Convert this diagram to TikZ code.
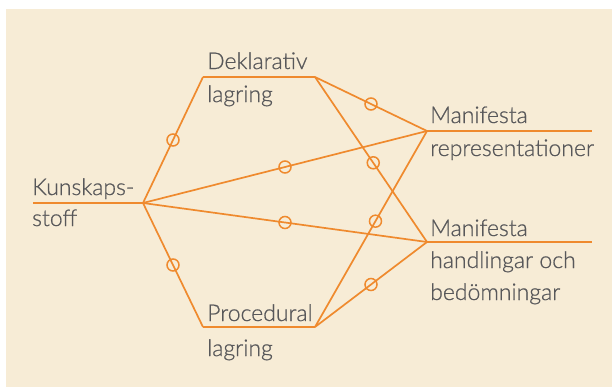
\documentclass[tikz,border=0pt]{standalone}
\usepackage{fontspec}
\setmainfont{Lato}[UprightFont=* Light,FakeBold=0.7,UprightFeatures={FakeBold=0.7}]
\definecolor{paper}{HTML}{F7ECD6}
\definecolor{wire}{HTML}{EF8A2E}
\definecolor{ink}{HTML}{58585A}
\begin{document}
\begin{tikzpicture}[x=1pt,y=-1pt,
  wirepath/.style={draw=wire,line width=1.7pt,line join=miter},
  ring/.style={circle,draw=wire,line width=1.5pt,minimum size=12pt,inner sep=0pt},
  lbl/.style={anchor=base west,inner sep=0pt,text=ink,font=\fontsize{23}{30}\selectfont}]
  % canvas and panel
  \useasboundingbox (0,0) rectangle (612,388);
  \fill[white] (0,0) rectangle (612,388);
  \fill[paper] (6,9) rectangle (612,387);

  % hubs
  \coordinate (Kin) at (33,203);
  \coordinate (K) at (143,203);
  \coordinate (D1) at (203,77);
  \coordinate (D2) at (315,77);
  \coordinate (P1) at (203,327);
  \coordinate (P2) at (315,327);
  \coordinate (R) at (427,131);
  \coordinate (Rout) at (592,131);
  \coordinate (H) at (427,242);
  \coordinate (Hout) at (592,242);

  % connectors
  \path[wirepath] (Kin) -- (K);
  \path[wirepath] (D1) -- (D2);
  \path[wirepath] (P1) -- (P2);
  \path[wirepath] (R) -- (Rout);
  \path[wirepath] (H) -- (Hout);
  \path[wirepath] (K) -- node[ring,pos=0.5] (c1) {} (D1);
  \path[wirepath] (K) -- node[ring,pos=0.5] (c2) {} (P1);
  \path[wirepath] (K) -- node[ring,pos=0.5] (c3) {} (R);
  \path[wirepath] (K) -- node[ring,pos=0.5] (c4) {} (H);
  \path[wirepath] (D2) -- node[ring,pos=0.5] (c5) {} (R);
  \path[wirepath] (D2) -- node[ring,pos=0.52] (c6) {} (H);
  \path[wirepath] (P2) -- node[ring,pos=0.54] (c7) {} (R);
  \path[wirepath] (P2) -- node[ring,pos=0.5] (c8) {} (H);

  % labels
  \node[lbl] (k1) at (32,195) {Kunskaps-};
  \node[lbl] (k2) at (32,226) {stoff};
  \node[lbl] (d1) at (207,69) {Deklarativ};
  \node[lbl] (d2) at (207,102) {lagring};
  \node[lbl] (p1) at (207,321) {Procedural};
  \node[lbl] (p2) at (207,356) {lagring};
  \node[lbl] (r1) at (430,123) {Manifesta};
  \node[lbl] (r2) at (430,156) {representationer};
  \node[lbl] (h1) at (430,236) {Manifesta};
  \node[lbl] (h2) at (430,268) {handlingar och};
  \node[lbl] (h3) at (430,300) {bedömningar};
\end{tikzpicture}
\end{document}
